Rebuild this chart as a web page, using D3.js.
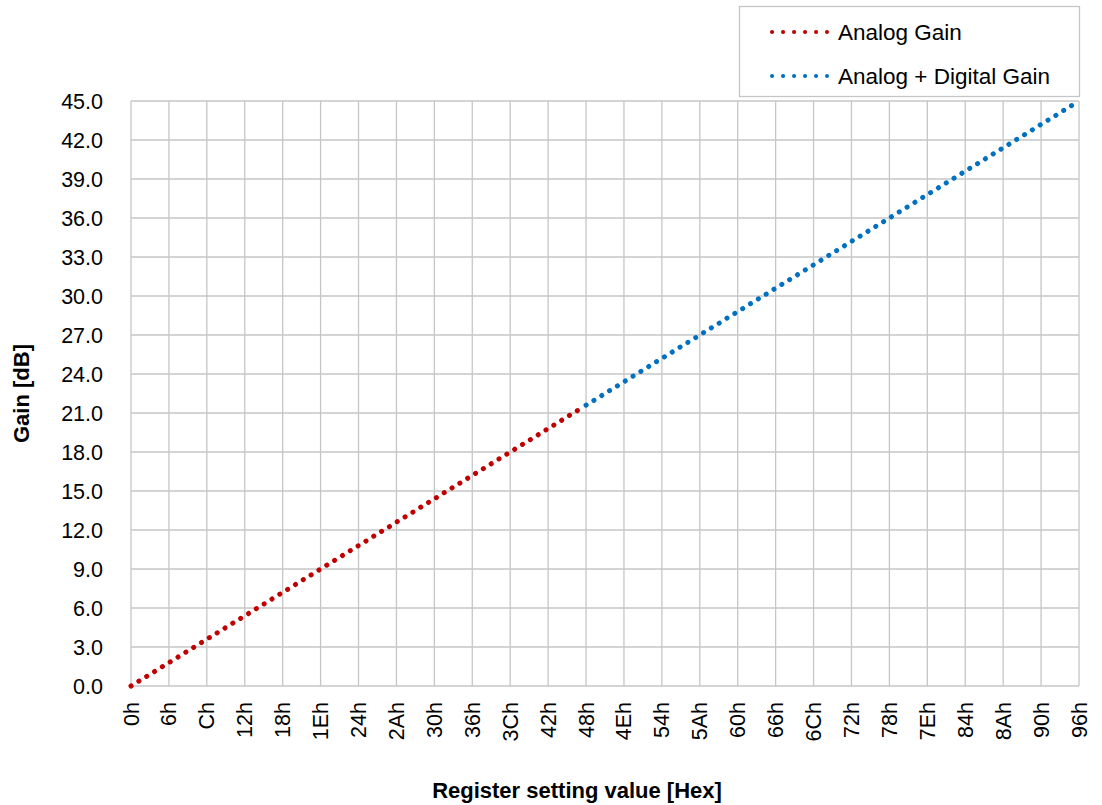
<!DOCTYPE html>
<html>
<head>
<meta charset="utf-8">
<script src="https://cdn.jsdelivr.net/npm/d3@7"></script>
<style>
  body { margin: 0; background: #fff; }
  text { font-family: "Liberation Sans", Arial, sans-serif; }
</style>
</head>
<body>
<svg id="chart" width="1102" height="805"></svg>
<script>
// Register values (decimal) and gain in dB
var analogReg = [0, 71];
var analogGain = [0.0, 21.3];
var digitalReg = [72, 150];
var digitalGain = [21.6, 45.0];

var xTicks = d3.range(0, 151, 6);
var yTicks = d3.range(0, 46, 3);
var seriesNames = ["Analog Gain", "Analog + Digital Gain"];
var seriesColors = ["#c00000", "#0070c0"];

var margin = { top: 101, right: 23, bottom: 119, left: 131 };
var width = 1102 - margin.left - margin.right,
    height = 805 - margin.top - margin.bottom;

var svg = d3.select("#chart");
var g = svg.append("g")
    .attr("transform", "translate(" + margin.left + "," + margin.top + ")");

var x = d3.scaleLinear().domain([0, 150]).range([0, width]);
var y = d3.scaleLinear().domain([0, 45]).range([height, 0]);

// Grid
g.selectAll(".vgrid")
    .data(xTicks)
    .enter().append("line")
    .attr("x1", d => x(d)).attr("x2", d => x(d))
    .attr("y1", 0).attr("y2", height)
    .attr("stroke", "#c6c6c6").attr("stroke-width", 1.3);

g.selectAll(".hgrid")
    .data(yTicks)
    .enter().append("line")
    .attr("x1", 0).attr("x2", width)
    .attr("y1", d => y(d)).attr("y2", d => y(d))
    .attr("stroke", "#c6c6c6").attr("stroke-width", 1.3);

// Y axis labels
g.selectAll(".ylab")
    .data(yTicks)
    .enter().append("text")
    .attr("x", -28)
    .attr("y", d => y(d))
    .attr("dy", "0.35em")
    .attr("text-anchor", "end")
    .style("font-size", "21.5px")
    .text(d => d.toFixed(1));

// X axis labels (hex, rotated)
g.selectAll(".xlab")
    .data(xTicks)
    .enter().append("text")
    .attr("transform", d => "translate(" + x(d) + "," + (height + 16) + ") rotate(-90)")
    .attr("dy", "0.35em")
    .attr("text-anchor", "end")
    .style("font-size", "21.5px")
    .text(d => d.toString(16).toUpperCase() + "h");

// Axis titles
svg.append("text")
    .attr("transform", "translate(29," + (margin.top + height / 2) + ") rotate(-90)")
    .attr("text-anchor", "middle")
    .style("font-size", "22px")
    .style("font-weight", "bold")
    .text("Gain [dB]");

svg.append("text")
    .attr("x", 577)
    .attr("y", 798)
    .attr("text-anchor", "middle")
    .style("font-size", "22px")
    .style("font-weight", "bold")
    .text("Register setting value [Hex]");

// Lines
var line = d3.line().x(d => x(d[0])).y(d => y(d[1]));
var series = [
    d3.zip(analogReg, analogGain),
    d3.zip(digitalReg, digitalGain)
];

g.selectAll(".series")
    .data(series)
    .enter().append("path")
    .attr("d", line)
    .attr("fill", "none")
    .attr("stroke", (d, i) => seriesColors[i])
    .attr("stroke-width", 5)
    .attr("stroke-linecap", "round")
    .attr("stroke-dasharray", "0.1 9.1");

// Legend
var legend = svg.append("g");
legend.append("rect")
    .attr("x", 739.5).attr("y", 6.5)
    .attr("width", 340).attr("height", 90)
    .attr("fill", "#fff")
    .attr("stroke", "#c6c6c6").attr("stroke-width", 1.3);

var items = legend.selectAll(".item")
    .data(seriesNames)
    .enter().append("g")
    .attr("transform", (d, i) => "translate(0," + (32 + i * 44) + ")");

items.append("line")
    .attr("x1", 772).attr("x2", 827)
    .attr("y1", 0).attr("y2", 0)
    .attr("stroke", (d, i) => seriesColors[i])
    .attr("stroke-width", 4)
    .attr("stroke-linecap", "round")
    .attr("stroke-dasharray", "0.1 10.9");

items.append("text")
    .attr("x", 838)
    .attr("y", 0)
    .attr("dy", "0.35em")
    .style("font-size", "22.5px")
    .text(d => d);
</script>
</body>
</html>
